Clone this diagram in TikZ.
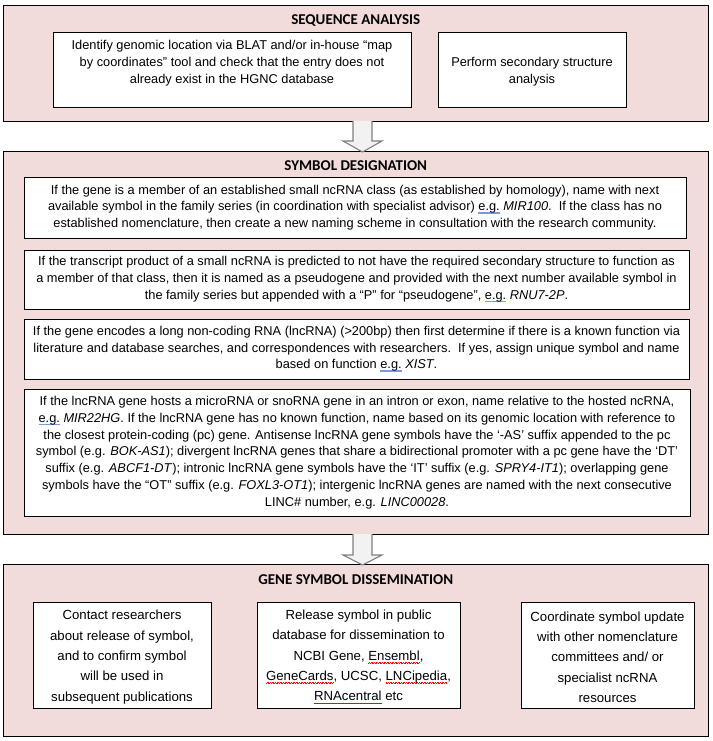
\documentclass[tikz,border=0pt]{standalone}
\usepackage{fontspec}
\setmainfont{Liberation Sans}
\newfontfamily\titlefont{Carlito}
\usetikzlibrary{calc,fit}
\definecolor{secpink}{HTML}{F2DCDB}
\definecolor{arrowfill}{HTML}{F2F2F2}
\definecolor{arrowline}{HTML}{7F7F7F}
\definecolor{grammarblue}{HTML}{7A9AE0}
\newsavebox\markbox
\newcommand\grammarline[1]{\sbox\markbox{#1}\rlap{\textcolor{grammarblue}{\rule[-3pt]{\wd\markbox}{1.6pt}}}\usebox\markbox}
\newcommand\spellwave[1]{\sbox\markbox{#1}\rlap{\textcolor{red}{\xleaders\hbox{\rule[-3.4pt]{0.8pt}{0.6pt}\rule[-2.6pt]{0.8pt}{0.6pt}}\hskip\wd\markbox}}\usebox\markbox}
\begin{document}
\begin{tikzpicture}[x=1pt,y=-1pt,
  section/.style={draw=black, fill=secpink, line width=0.9pt, inner sep=0pt, outer sep=0pt},
  box/.style={draw=black, fill=white, line width=0.9pt, inner sep=0pt, outer sep=0pt},
  title/.style={font=\titlefont\bfseries\fontsize{15}{17}\selectfont, inner sep=0pt},
  body/.style={align=center, font=\fontsize{12.8}{16.8}\selectfont, inner sep=0pt},
  cbody/.style={align=center, font=\fontsize{13.2}{20.3}\selectfont, inner sep=0pt},
  blockarrow/.style={draw=arrowline, fill=arrowfill, line width=1.1pt, line join=miter}]
\useasboundingbox (0,0) rectangle (712,741);
% sections
\node[section, fit={(3.5,5) (708,121)}] (sec1) {};
\node[section, fit={(3.5,151) (708,534)}] (sec2) {};
\node[section, fit={(3.5,564) (708,736)}] (sec3) {};
% titles
\node[title] (t1) at (355.75,21) {SEQUENCE ANALYSIS};
\node[title] (t2) at (355.75,166) {SYMBOL DESIGNATION};
\node[title] (t3) at (355.75,580) {GENE SYMBOL DISSEMINATION};
% section 1 boxes
\node[box, fit={(53,32) (411,107)}] (boxA) {};
\node[box, fit={(438,32) (626,107)}] (boxB) {};
\node[body] (txtA) at (232,63) {Identify genomic location via BLAT and/or in-house “map\\by coordinates” tool and check that the entry does not\\already exist in the HGNC database};
\node[body] (txtB) at (532,71.5) {Perform secondary structure\\analysis};
% section 2 boxes
\node[box, fit={(24,177) (686,238)}] (box1) {};
\node[box, fit={(24,250) (689,309)}] (box2) {};
\node[box, fit={(24,319) (689,379)}] (box3) {};
\node[box, fit={(24,389) (690,516)}] (box4) {};
\node[body] (txt1) at (box1.center) {If the gene is a member of an established small ncRNA class (as established by homology), name with next\\available symbol in the family series (in coordination with specialist advisor) \grammarline{e.g.} \textit{MIR100}.\ \ If the class has no\\established nomenclature, then create a new naming scheme in consultation with the research community.};
\node[body] (txt2) at (box2.center) {If the transcript product of a small ncRNA is predicted to not have the required secondary structure to function as\\a member of that class, then it is named as a pseudogene and provided with the next number available symbol in\\the family series but appended with a “P” for “pseudogene”, \grammarline{e.g.} \textit{RNU7-2P}.};
\node[body] (txt3) at (box3.center) {If the gene encodes a long non-coding RNA (lncRNA) (>200bp) then first determine if there is a known function via\\literature and database searches, and correspondences with researchers.\ \ If yes, assign unique symbol and name\\based on function \grammarline{e.g.} \textit{XIST}.};
\node[body] (txt4) at (box4.center) {If the lncRNA gene hosts a microRNA or snoRNA gene in an intron or exon, name relative to the hosted ncRNA,\\\grammarline{e.g.} \textit{MIR22HG}. If the lncRNA gene has no known function, name based on its genomic location with reference to\\the closest protein-coding (pc) gene. Antisense lncRNA gene symbols have the ‘-AS’ suffix appended to the pc\\symbol (e.g. \textit{BOK-AS1}); divergent lncRNA genes that share a bidirectional promoter with a pc gene have the ‘DT’\\suffix (e.g. \textit{ABCF1-DT}); intronic lncRNA gene symbols have the ‘IT’ suffix (e.g. \textit{SPRY4-IT1}); overlapping gene\\symbols have the “OT” suffix (e.g. \textit{FOXL3-OT1}); intergenic lncRNA genes are named with the next consecutive\\LINC\# number, e.g. \textit{LINC00028}.};
% section 3 boxes
\node[box, fit={(33,602) (211,708)}] (boxC1) {};
\node[box, fit={(257,602) (460,708)}] (boxC2) {};
\node[box, fit={(521,602) (694,708)}] (boxC3) {};
\node[cbody] (txtC1) at (122,657) {Contact researchers\\about release of symbol,\\and to confirm symbol\\will be used in\\subsequent publications};
\node[cbody] (txtC2) at (358.5,657) {Release symbol in public\\database for dissemination to\\NCBI Gene, \spellwave{Ensembl},\\\spellwave{GeneCards}, UCSC, \spellwave{LNCipedia},\\\spellwave{RNAcentral} etc};
\node[cbody] (txtC3) at (607.5,657) {Coordinate symbol update\\with other nomenclature\\committees and/ or\\specialist ncRNA\\resources};
% block arrows
\coordinate (a1) at ($(sec1.south)+(6.75,0)$);
\coordinate (a1tip) at (a1 |- sec2.north);
\draw[blockarrow] ($(a1)+(-9.5,0)$) -- ($(a1)+(-9.5,20)$) -- ($(a1)+(-19.5,20)$) -- ($(a1tip)+(0,1)$) -- ($(a1)+(19.5,20)$) -- ($(a1)+(9.5,20)$) -- ($(a1)+(9.5,0)$);
\coordinate (a2) at ($(sec2.south)+(6.75,0)$);
\coordinate (a2tip) at (a2 |- sec3.north);
\draw[blockarrow] ($(a2)+(-9.5,0)$) -- ($(a2)+(-9.5,21)$) -- ($(a2)+(-19.5,21)$) -- ($(a2tip)+(0,1)$) -- ($(a2)+(19.5,21)$) -- ($(a2)+(9.5,21)$) -- ($(a2)+(9.5,0)$);
\end{tikzpicture}
\end{document}
